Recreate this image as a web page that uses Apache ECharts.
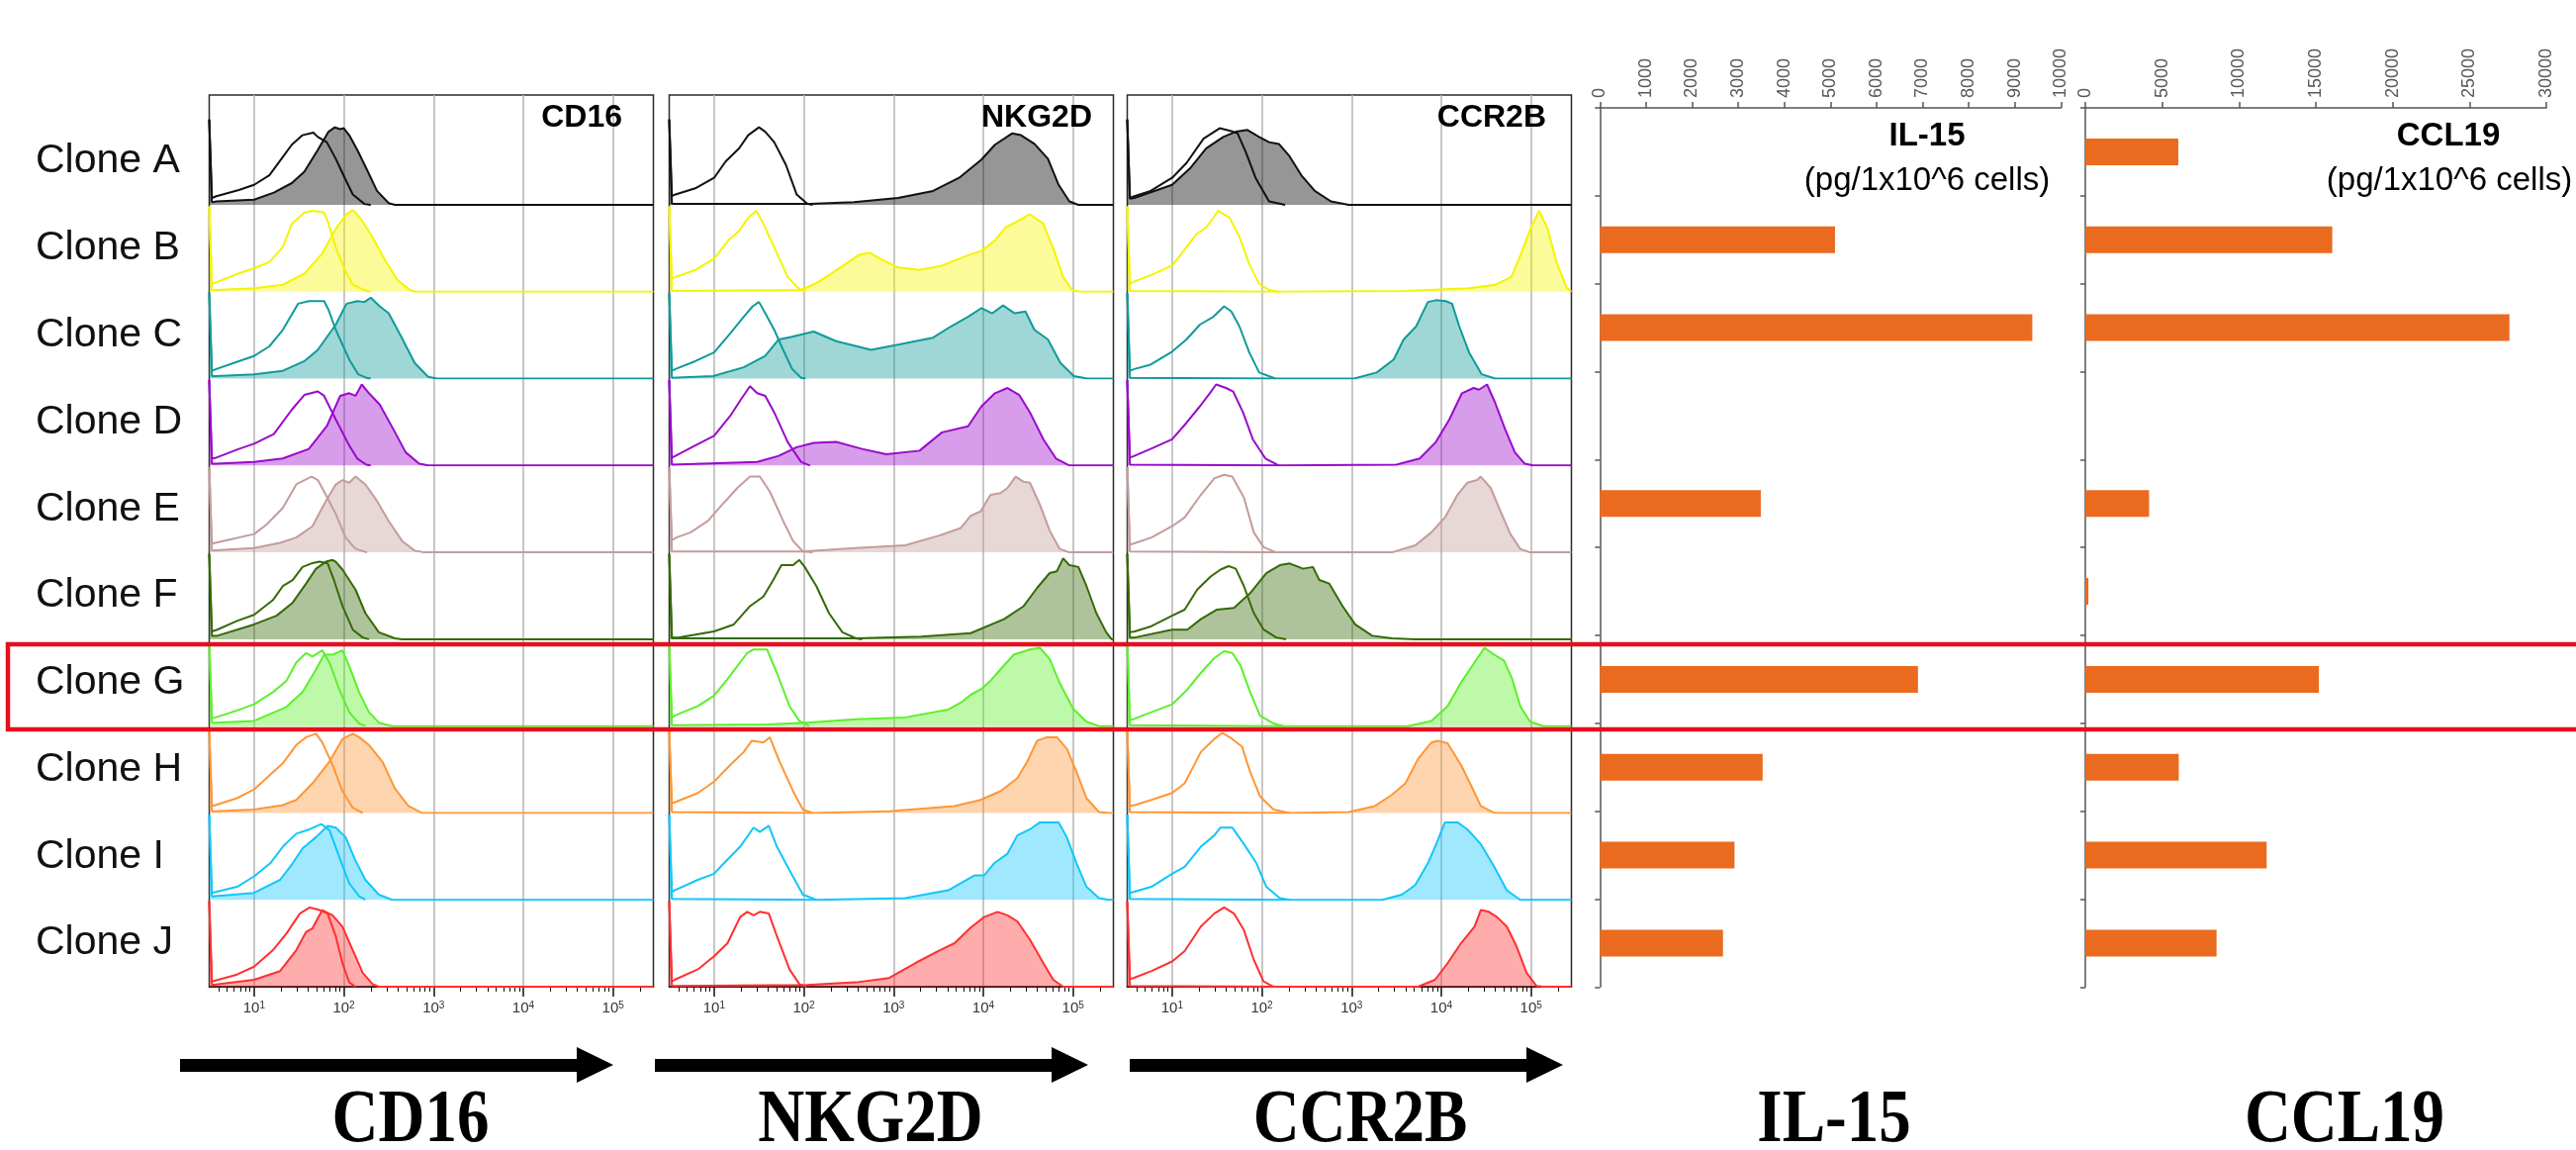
<!DOCTYPE html>
<html><head><meta charset="utf-8">
<script src="https://cdn.jsdelivr.net/npm/echarts@6/dist/echarts.min.js"></script>
<style>html,body{margin:0;padding:0;background:#fff}#c{width:2604px;height:1162px}</style>
</head><body><div id="c"></div>
<script>
// ---------- DATA ----------
const clones = ['Clone A','Clone B','Clone C','Clone D','Clone E','Clone F','Clone G','Clone H','Clone I','Clone J'];
const markers = ['CD16','NKG2D','CCR2B'];
const decadeTicks = [1,2,3,4,5];           // log10 positions of 10^1 .. 10^5
// histogram points: [log10 fluorescence, % of row max]
const cd16Control = [
 [[0.5,98],[0.53,8],[0.58,10],[0.83,17],[1.0,23],[1.17,34],[1.32,55],[1.42,69],[1.54,80],[1.66,83],[1.71,78],[1.81,72],[1.91,53],[2.01,31],[2.10,12],[2.23,1],[2.3,0]],
 [[0.5,98],[0.53,9],[0.58,11],[0.83,21],[1.0,27],[1.17,34],[1.32,51],[1.42,78],[1.56,91],[1.66,93],[1.78,91],[1.83,78],[1.91,51],[2.01,25],[2.10,8],[2.25,1],[2.3,0]],
 [[0.5,98],[0.53,9],[0.58,11],[0.83,20],[1.0,26],[1.17,37],[1.32,56],[1.49,86],[1.61,89],[1.78,89],[1.83,79],[1.91,56],[2.06,22],[2.16,5],[2.25,1],[2.3,0]],
 [[0.5,98],[0.53,8],[0.58,9],[0.83,19],[1.0,25],[1.22,36],[1.42,64],[1.56,81],[1.71,85],[1.78,80],[1.91,53],[2.06,23],[2.15,8],[2.25,1],[2.3,0]],
 [[0.5,98],[0.53,10],[0.55,11],[0.74,15],[1.0,21],[1.14,32],[1.32,51],[1.47,78],[1.64,87],[1.71,83],[1.80,66],[1.91,44],[2.02,17],[2.13,4],[2.26,0]],
 [[0.5,98],[0.53,9],[0.59,11],[0.81,21],[1.0,28],[1.21,45],[1.32,61],[1.43,68],[1.54,83],[1.64,87],[1.73,89],[1.82,87],[1.89,68],[1.985,38],[2.10,11],[2.21,2],[2.28,0]],
 [[0.5,95],[0.53,9],[0.57,10],[0.81,18],[1.0,25],[1.21,39],[1.36,52],[1.47,73],[1.58,84],[1.65,80],[1.76,87],[1.84,73],[1.95,42],[2.06,16],[2.17,3],[2.24,0]],
 [[0.5,95],[0.53,8],[0.57,9],[0.81,17],[1.0,27],[1.18,44],[1.32,57],[1.47,78],[1.58,87],[1.69,91],[1.76,81],[1.875,55],[1.985,25],[2.10,6],[2.21,0]],
 [[0.5,98],[0.53,8],[0.55,9],[0.81,15],[1.0,27],[1.18,42],[1.32,61],[1.47,76],[1.62,81],[1.75,87],[1.84,80],[1.95,49],[2.06,19],[2.17,4],[2.24,0]],
 [[0.5,98],[0.53,6],[0.55,6],[0.81,14],[1.0,23],[1.21,42],[1.36,61],[1.51,84],[1.62,91],[1.73,88],[1.82,84],[1.91,58],[1.985,27],[2.06,5],[2.13,0]]
];
const cd16Stained = [
 [[0.5,98],[0.53,3],[0.58,4],[1.0,6],[1.22,14],[1.42,25],[1.56,38],[1.71,63],[1.83,84],[1.90,89],[1.96,87],[2.0,88],[2.06,80],[2.15,63],[2.25,42],[2.37,16],[2.50,2],[2.57,0],[5.45,0]],
 [[0.5,98],[0.53,2],[0.58,2],[1.0,4],[1.32,8],[1.56,21],[1.76,44],[1.91,72],[2.03,89],[2.10,94],[2.18,85],[2.30,66],[2.45,38],[2.60,13],[2.74,2],[2.79,0],[5.45,0]],
 [[0.5,98],[0.53,3],[0.58,3],[1.0,5],[1.32,9],[1.56,20],[1.71,33],[1.91,62],[2.03,86],[2.15,89],[2.23,88],[2.30,93],[2.40,83],[2.50,75],[2.64,48],[2.79,18],[2.94,2],[3.04,0],[5.45,0]],
 [[0.5,98],[0.53,2],[0.58,2],[1.0,4],[1.32,8],[1.61,19],[1.81,45],[1.96,80],[2.06,83],[2.13,80],[2.20,93],[2.28,83],[2.40,70],[2.55,42],[2.69,15],[2.84,2],[2.94,0],[5.45,0]],
 [[0.5,98],[0.53,2],[0.55,2],[1.0,5],[1.29,11],[1.47,17],[1.65,30],[1.80,59],[1.91,78],[1.985,83],[2.06,80],[2.13,87],[2.24,78],[2.37,59],[2.50,36],[2.65,13],[2.79,2],[2.90,0],[5.45,0]],
 [[0.5,98],[0.53,4],[0.59,4],[1.0,17],[1.25,27],[1.43,42],[1.58,64],[1.69,81],[1.80,89],[1.875,91],[1.91,89],[1.985,80],[2.13,57],[2.24,30],[2.39,8],[2.57,1],[2.65,0],[5.45,0]],
 [[0.5,95],[0.53,4],[0.57,4],[1.0,6],[1.36,22],[1.54,39],[1.69,65],[1.78,82],[1.875,82],[1.985,87],[2.06,69],[2.17,39],[2.28,16],[2.39,4],[2.54,0],[5.45,0]],
 [[0.5,95],[0.53,2],[0.57,2],[1.0,4],[1.32,9],[1.47,15],[1.65,34],[1.84,59],[1.985,85],[2.10,91],[2.17,87],[2.28,78],[2.43,59],[2.57,28],[2.72,8],[2.87,0],[5.45,0]],
 [[0.5,98],[0.53,4],[0.55,4],[1.0,8],[1.29,23],[1.43,42],[1.54,59],[1.69,72],[1.82,85],[1.91,83],[2.02,72],[2.13,45],[2.24,23],[2.39,6],[2.54,0],[5.45,0]],
 [[0.5,98],[0.53,2],[0.55,2],[1.0,8],[1.29,18],[1.47,42],[1.58,63],[1.65,67],[1.76,88],[1.875,82],[1.985,69],[2.10,42],[2.21,16],[2.32,3],[2.39,0],[5.45,0]]
];
const nkg2dControl = [
 [[0.5,98],[0.53,10],[0.57,12],[0.79,19],[1.0,31],[1.13,50],[1.28,65],[1.38,80],[1.50,89],[1.57,84],[1.67,72],[1.80,46],[1.92,12],[2.04,1],[2.1,0]],
 [[0.5,98],[0.53,15],[0.57,17],[0.79,25],[1.0,38],[1.16,59],[1.28,70],[1.38,85],[1.47,93],[1.55,78],[1.67,51],[1.82,17],[1.94,4],[2.02,0]],
 [[0.5,98],[0.53,9],[0.57,11],[0.79,20],[1.0,30],[1.18,52],[1.33,71],[1.43,83],[1.50,88],[1.57,75],[1.67,56],[1.77,33],[1.87,11],[1.97,1],[2.02,0]],
 [[0.5,98],[0.53,9],[0.57,11],[0.79,23],[1.0,34],[1.18,57],[1.30,76],[1.40,91],[1.48,83],[1.57,80],[1.67,61],[1.82,27],[1.97,4],[2.07,0]],
 [[0.5,98],[0.53,14],[0.58,17],[0.74,23],[0.93,36],[1.11,57],[1.26,74],[1.40,87],[1.51,87],[1.62,70],[1.77,36],[1.88,13],[1.99,1],[2.10,0]],
 [[0.5,98],[0.53,2],[0.6,2],[1.0,9],[1.22,17],[1.40,38],[1.55,49],[1.66,68],[1.75,85],[1.88,85],[1.95,91],[2.01,83],[2.14,61],[2.28,30],[2.43,8],[2.58,1],[2.65,0]],
 [[0.5,95],[0.53,10],[0.56,12],[0.82,23],[1.0,35],[1.15,54],[1.26,69],[1.37,84],[1.44,88],[1.59,88],[1.70,61],[1.84,23],[1.95,6],[2.06,0]],
 [[0.5,95],[0.53,11],[0.58,13],[0.82,23],[1.0,36],[1.18,55],[1.33,70],[1.42,83],[1.55,81],[1.62,87],[1.73,59],[1.88,25],[1.99,4],[2.10,0]],
 [[0.5,98],[0.53,9],[0.56,11],[0.82,23],[1.0,30],[1.11,42],[1.29,61],[1.44,83],[1.51,78],[1.61,85],[1.70,61],[1.84,34],[1.99,6],[2.14,0]],
 [[0.5,98],[0.53,6],[0.56,8],[0.82,20],[1.0,35],[1.15,50],[1.29,80],[1.37,86],[1.44,82],[1.51,86],[1.61,84],[1.70,58],[1.84,20],[1.95,3],[2.03,0]]
];
const nkg2dStained = [
 [[0.5,98],[0.53,1],[1.0,1],[2.07,1],[2.56,3],[3.05,8],[3.44,16],[3.73,31],[3.98,52],[4.13,69],[4.32,82],[4.42,80],[4.57,70],[4.72,53],[4.84,23],[4.96,4],[5.06,0],[5.45,0]],
 [[0.5,98],[0.53,1],[1.97,2],[2.16,11],[2.41,28],[2.61,42],[2.73,45],[2.85,38],[3.05,28],[3.29,25],[3.54,30],[3.78,40],[3.98,47],[4.13,59],[4.25,74],[4.40,82],[4.52,89],[4.67,78],[4.79,47],[4.89,17],[4.99,2],[5.08,0],[5.45,0]],
 [[0.5,98],[0.53,1],[0.99,3],[1.33,13],[1.57,26],[1.72,45],[1.87,48],[2.11,54],[2.36,43],[2.75,33],[3.05,39],[3.44,47],[3.64,60],[3.83,71],[3.98,81],[4.10,75],[4.22,84],[4.35,75],[4.47,77],[4.57,56],[4.72,45],[4.86,18],[5.01,3],[5.16,0],[5.45,0]],
 [[0.5,98],[0.53,1],[1.48,4],[1.72,11],[1.92,21],[2.11,26],[2.36,27],[2.65,19],[2.92,13],[3.29,17],[3.54,38],[3.83,45],[3.98,68],[4.13,83],[4.27,89],[4.40,81],[4.52,61],[4.67,30],[4.81,8],[4.96,0],[5.45,0]],
 [[0.5,98],[0.53,1],[1.99,1],[2.58,5],[3.13,8],[3.50,19],[3.75,28],[3.86,42],[3.97,47],[4.08,66],[4.19,68],[4.27,74],[4.36,87],[4.45,81],[4.52,80],[4.63,55],[4.74,25],[4.85,4],[4.96,0],[5.45,0]],
 [[0.5,98],[0.53,1],[2.58,1],[3.31,3],[3.86,7],[4.23,23],[4.45,38],[4.60,59],[4.74,76],[4.82,78],[4.89,93],[4.96,85],[5.06,83],[5.15,61],[5.26,30],[5.37,8],[5.43,0],[5.45,0]],
 [[0.5,95],[0.53,1],[1.59,2],[2.03,4],[2.58,8],[3.13,10],[3.61,19],[3.75,27],[3.86,36],[3.97,42],[4.08,52],[4.19,65],[4.34,82],[4.52,88],[4.63,90],[4.74,77],[4.85,50],[5.0,20],[5.15,5],[5.29,0],[5.45,0]],
 [[0.5,95],[0.53,1],[2.10,0],[2.95,2],[3.68,8],[3.97,15],[4.19,25],[4.38,40],[4.49,59],[4.60,83],[4.71,87],[4.82,87],[4.93,74],[5.04,47],[5.15,17],[5.29,1],[5.40,0],[5.45,0]],
 [[0.5,98],[0.53,1],[2.14,0],[3.13,2],[3.61,11],[3.90,28],[4.01,28],[4.12,42],[4.27,53],[4.38,74],[4.52,81],[4.63,89],[4.78,89],[4.84,89],[4.93,72],[5.04,42],[5.15,15],[5.29,2],[5.40,0],[5.45,0]],
 [[0.5,98],[0.53,1],[2.03,2],[2.58,5],[2.95,10],[3.24,27],[3.50,41],[3.68,50],[3.86,68],[4.01,80],[4.16,86],[4.27,82],[4.38,75],[4.52,54],[4.67,27],[4.78,8],[4.89,0],[5.45,0]]
];
const ccr2bControl = [
 [[0.5,98],[0.53,8],[0.58,10],[0.76,16],[1.0,31],[1.16,48],[1.35,76],[1.53,88],[1.68,84],[1.73,82],[1.82,61],[1.93,31],[2.08,4],[2.26,0]],
 [[0.5,98],[0.53,9],[0.56,11],[0.76,19],[1.0,30],[1.13,47],[1.27,66],[1.38,74],[1.46,85],[1.51,93],[1.64,85],[1.75,63],[1.86,32],[1.97,9],[2.08,2],[2.19,0]],
 [[0.5,98],[0.53,9],[0.58,11],[0.76,16],[1.0,31],[1.16,45],[1.31,62],[1.46,71],[1.58,83],[1.66,77],[1.75,60],[1.86,30],[1.97,7],[2.15,0]],
 [[0.5,98],[0.53,9],[0.58,11],[0.76,19],[1.0,30],[1.16,49],[1.31,68],[1.42,83],[1.49,93],[1.60,89],[1.68,85],[1.79,61],[1.90,30],[2.04,8],[2.19,0]],
 [[0.5,98],[0.53,9],[0.57,10],[0.77,17],[1.0,30],[1.14,40],[1.32,66],[1.47,85],[1.58,89],[1.67,87],[1.80,63],[1.91,23],[2.02,6],[2.16,0]],
 [[0.5,98],[0.53,8],[0.585,9],[0.77,15],[1.0,27],[1.14,34],[1.28,57],[1.43,72],[1.54,80],[1.63,84],[1.71,81],[1.80,61],[1.91,30],[2.02,11],[2.16,2],[2.27,0]],
 [[0.5,95],[0.53,7],[0.57,8],[0.77,16],[1.0,25],[1.17,42],[1.32,61],[1.47,78],[1.58,86],[1.67,84],[1.76,70],[1.87,39],[1.98,12],[2.13,3],[2.24,0]],
 [[0.5,95],[0.53,8],[0.585,9],[0.77,15],[1.0,23],[1.14,34],[1.32,70],[1.47,85],[1.56,92],[1.67,85],[1.78,76],[1.87,47],[1.98,19],[2.13,4],[2.31,0]],
 [[0.5,98],[0.53,8],[0.57,9],[0.77,15],[1.0,30],[1.14,38],[1.32,61],[1.47,74],[1.54,83],[1.67,83],[1.80,64],[1.94,42],[2.05,15],[2.2,2],[2.31,0]],
 [[0.5,98],[0.53,9],[0.57,10],[0.77,18],[1.0,29],[1.14,41],[1.32,69],[1.47,84],[1.58,91],[1.69,84],[1.80,65],[1.91,31],[2.02,6],[2.13,0]]
];
const ccr2bStained = [
 [[0.5,98],[0.53,7],[0.58,8],[1.0,23],[1.20,42],[1.38,65],[1.57,78],[1.71,84],[1.84,86],[1.97,78],[2.08,72],[2.19,70],[2.30,57],[2.44,34],[2.59,16],[2.77,4],[2.97,0],[5.45,0]],
 [[0.5,98],[0.53,1],[2.2,0],[3.6,1],[4.31,4],[4.60,8],[4.78,17],[4.89,44],[5.0,74],[5.09,93],[5.18,74],[5.29,32],[5.40,4],[5.45,0]],
 [[0.5,98],[0.53,1],[2.2,0],[3.03,0],[3.28,7],[3.47,22],[3.58,45],[3.72,60],[3.85,88],[3.94,90],[4.05,89],[4.12,86],[4.20,60],[4.31,30],[4.45,5],[4.60,0],[5.45,0]],
 [[0.5,98],[0.53,1],[2.2,0],[3.50,1],[3.76,8],[3.94,27],[4.09,53],[4.23,83],[4.36,89],[4.42,87],[4.51,93],[4.60,72],[4.71,42],[4.82,15],[4.93,2],[5.02,0],[5.45,0]],
 [[0.5,98],[0.53,1],[2.2,0],[3.45,0],[3.71,8],[3.89,23],[4.04,40],[4.18,66],[4.29,80],[4.40,83],[4.44,87],[4.55,74],[4.66,47],[4.77,21],[4.88,4],[4.99,0],[5.45,0]],
 [[0.5,98],[0.53,2],[0.585,2],[1.0,11],[1.17,11],[1.32,23],[1.50,34],[1.69,36],[1.87,53],[2.05,76],[2.20,85],[2.31,87],[2.46,81],[2.57,83],[2.64,68],[2.75,64],[2.90,38],[3.04,17],[3.23,4],[3.45,1],[3.71,0],[5.45,0]],
 [[0.5,95],[0.53,1],[2.2,0],[3.63,0],[3.89,6],[4.07,23],[4.22,50],[4.37,73],[4.48,90],[4.59,82],[4.70,75],[4.79,54],[4.88,23],[4.99,5],[5.14,0],[5.45,0]],
 [[0.5,95],[0.53,1],[2.3,0],[2.97,1],[3.26,8],[3.45,21],[3.60,34],[3.74,62],[3.89,81],[3.96,83],[4.07,80],[4.22,55],[4.33,32],[4.44,8],[4.59,0],[5.45,0]],
 [[0.5,98],[0.53,1],[2.3,0],[3.34,0],[3.56,6],[3.71,17],[3.85,42],[3.96,68],[4.04,89],[4.18,89],[4.29,81],[4.44,64],[4.59,38],[4.73,11],[4.88,0],[5.45,0]],
 [[0.5,98],[0.53,1],[2.2,0],[3.74,0],[3.93,8],[4.07,27],[4.22,50],[4.37,69],[4.44,88],[4.53,86],[4.62,80],[4.73,69],[4.84,46],[4.95,16],[5.06,1],[5.14,0],[5.45,0]]
];
const il15 = [0, 5100, 9380, 0, 3490, 0, 6900, 3530, 2920, 2670];
const ccl19 = [6050, 16070, 27600, 0, 4150, 200, 15200, 6080, 11800, 8540];

// ---------- STYLE / LAYOUT ----------
const FONT = '"Liberation Sans", Arial, sans-serif';
const SERIF = '"Liberation Serif", "Times New Roman", serif';
const lineColors = ['#111111','#f4f400','#109a9a','#9a0acb','#c49c9c','#356a06','#5cf02a','#ff9636','#12c6fa','#ff3030'];
const panelLeft = [211.5, 676.5, 1139.5];
const panelW = 449;
const rowBase0 = 207, rowStep = 87.78, rowH = 88;
const X_MIN = 0.5, X_MAX = 5.45;
const minorTicks = [];
for (let n = 0; n <= 5; n++) for (let k = 2; k <= 9; k++) {
  const v = n + Math.log10(k);
  if (v >= X_MIN && v <= X_MAX) minorTicks.push(v);
}
const histData = [[cd16Control, cd16Stained],[nkg2dControl, nkg2dStained],[ccr2bControl, ccr2bStained]];

const grids = [], xAxes = [], yAxes = [], series = [];
markers.forEach((m, pi) => {
  const gi = grids.length;
  grids.push({left: panelLeft[pi], top: 96, width: panelW, height: 901, show: true,
    borderColor: '#2a2a2a', borderWidth: 1.5, backgroundColor: 'transparent', outerBoundsMode: 'none', containLabel: false});
  xAxes.push({gridIndex: gi, type: 'value', min: X_MIN, max: X_MAX, position: 'bottom',
    axisLine: {show: true, onZero: false, lineStyle: {color: '#111', width: 1.5}},
    axisTick: {show: true, length: 10, customValues: decadeTicks, lineStyle: {color: '#111', width: 1.5}},
    axisLabel: {show: true, customValues: decadeTicks, margin: 14, color: '#333', fontSize: 15, fontFamily: FONT,
      formatter: v => '10{s|' + Math.round(v) + '}',
      rich: {s: {fontSize: 10, verticalAlign: 'top', color: '#333', fontFamily: FONT}}},
    splitLine: {show: true, lineStyle: {color: '#b4b4b4', width: 1.5}}});
  xAxes.push({gridIndex: gi, type: 'value', min: X_MIN, max: X_MAX, position: 'bottom',
    axisLine: {show: false, onZero: false},
    axisTick: {show: true, length: 5, customValues: minorTicks, lineStyle: {color: '#111', width: 1}},
    axisLabel: {show: false}, splitLine: {show: false}});
  yAxes.push({gridIndex: gi, type: 'value', min: 0, max: 100, show: false});
  for (let r = 0; r < 10; r++) {
    const g = grids.length;
    grids.push({left: panelLeft[pi], top: rowBase0 + r * rowStep - rowH, width: panelW, height: rowH, outerBoundsMode: 'none', containLabel: false});
    const xi = xAxes.length;
    xAxes.push({gridIndex: g, type: 'value', min: X_MIN, max: X_MAX, show: false});
    const yi = yAxes.length;
    yAxes.push({gridIndex: g, type: 'value', min: 0, max: 100, show: false});
    const c = lineColors[r];
    series.push({type: 'line', name: m + ' ' + clones[r] + ' stained', xAxisIndex: xi, yAxisIndex: yi,
      data: histData[pi][1][r], symbol: 'none', color: c, z: 2, silent: true,
      lineStyle: {color: c, width: 2}, areaStyle: {color: c, opacity: r === 0 ? 0.44 : 0.4}});
    series.push({type: 'line', name: m + ' ' + clones[r] + ' control', xAxisIndex: xi, yAxisIndex: yi,
      data: histData[pi][0][r], symbol: 'none', color: c, z: 3, silent: true,
      lineStyle: {color: c, width: 2}});
  }
});

// clone labels column
{
  const g = grids.length;
  grids.push({left: 211.5, top: rowBase0 - rowStep, width: 10, height: rowStep * 10, outerBoundsMode: 'none', containLabel: false});
  xAxes.push({gridIndex: g, type: 'value', show: false});
  yAxes.push({gridIndex: g, type: 'category', data: clones, inverse: true,
    axisLine: {show: false}, axisTick: {show: false}, splitLine: {show: false},
    axisLabel: {show: true, align: 'left', margin: 175.5, fontSize: 41, color: '#111', fontFamily: FONT}});
}

// bar charts
const barSets = [
  {left: 1617.3, max: 10000, interval: 1000, values: il15, name: 'IL-15'},
  {left: 2108, max: 30000, interval: 5000, values: ccl19, name: 'CCL19'}
];
barSets.forEach(b => {
  const g = grids.length;
  grids.push({left: b.left, top: 109, width: 466, height: 888.3, outerBoundsMode: 'none', containLabel: false});
  const xi = xAxes.length;
  xAxes.push({gridIndex: g, type: 'value', position: 'top', min: 0, max: b.max, interval: b.interval,
    axisLine: {show: true, onZero: false, lineStyle: {color: '#555', width: 1.5}},
    axisTick: {show: true, length: 6, lineStyle: {color: '#555', width: 1.5}},
    axisLabel: {show: true, rotate: -90, fontSize: 18, color: '#595959', margin: 10, fontFamily: FONT,
      formatter: v => String(v)},
    splitLine: {show: false}});
  const yi = yAxes.length;
  yAxes.push({gridIndex: g, type: 'category', data: clones, inverse: true,
    axisLine: {show: true, onZero: false, lineStyle: {color: '#555', width: 1.5}},
    axisTick: {show: true, length: 5, lineStyle: {color: '#555', width: 1.5}},
    axisLabel: {show: false}, splitLine: {show: false}});
  series.push({type: 'bar', name: b.name, xAxisIndex: xi, yAxisIndex: yi, data: b.values,
    barWidth: 27, itemStyle: {color: '#ea6b1f'}, silent: true});
});

// static texts & decorations
function txt(x, y, text, size, weight, family, align, scaleY) {
  return {type: 'text', x: x, y: y, scaleY: scaleY || 1, z: 50,
    style: {text: text, fontSize: size, fontWeight: weight, fontFamily: family, fill: '#000',
      align: align, verticalAlign: 'middle', textAlign: align, textVerticalAlign: 'middle'}};
}
function arrow(x0) {
  return {type: 'polygon', z: 50, shape: {points: [[x0, 1070], [x0 + 401, 1070], [x0 + 401, 1058], [x0 + 438, 1076],
    [x0 + 401, 1094], [x0 + 401, 1083], [x0, 1083]]}, style: {fill: '#000'}};
}
const graphics = [
  txt(629, 119, 'CD16', 32, 'bold', FONT, 'right'),
  txt(1104, 119, 'NKG2D', 32, 'bold', FONT, 'right'),
  txt(1563, 119, 'CCR2B', 32, 'bold', FONT, 'right'),
  txt(1948, 138, 'IL-15', 33, 'bold', FONT, 'center'),
  txt(1948, 183, '(pg/1x10^6 cells)', 33, 'normal', FONT, 'center'),
  txt(2475, 138, 'CCL19', 33, 'bold', FONT, 'center'),
  txt(2476, 183, '(pg/1x10^6 cells)', 33, 'normal', FONT, 'center'),
  arrow(182), arrow(662), arrow(1142),
  txt(415, 1133, 'CD16', 65, 'bold', SERIF, 'center', 1.18),
  txt(880, 1133, 'NKG2D', 65, 'bold', SERIF, 'center', 1.18),
  txt(1375, 1133, 'CCR2B', 65, 'bold', SERIF, 'center', 1.18),
  txt(1854, 1133, 'IL-15', 65, 'bold', SERIF, 'center', 1.18),
  txt(2370, 1133, 'CCL19', 65, 'bold', SERIF, 'center', 1.18),
  {type: 'rect', z: 100, shape: {x: 8, y: 651, width: 2700, height: 86},
    style: {fill: 'none', stroke: '#e3101e', lineWidth: 4.5}}
];

const chart = echarts.init(document.getElementById('c'), null, {renderer: 'canvas', width: 2604, height: 1162});
chart.setOption({
  animation: false,
  backgroundColor: '#ffffff',
  grid: grids, xAxis: xAxes, yAxis: yAxes, series: series,
  graphic: {elements: graphics}
});
</script></body></html>
